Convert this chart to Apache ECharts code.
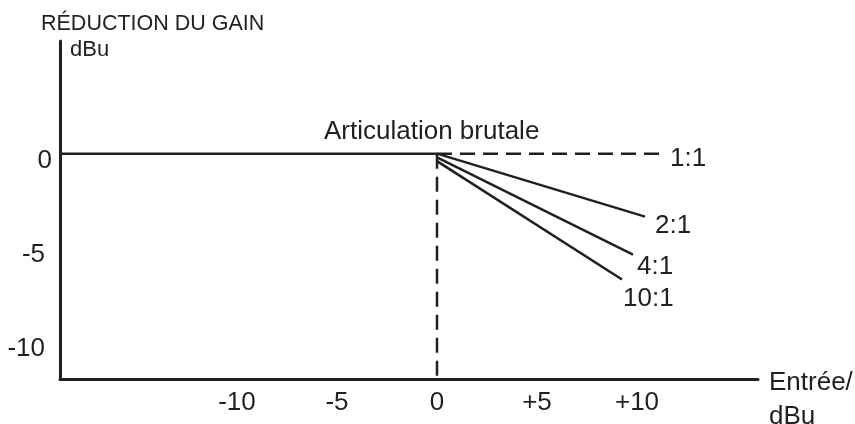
<!DOCTYPE html>
<html>
<head>
<meta charset="utf-8">
<title>Articulation brutale</title>
<script src="https://cdn.jsdelivr.net/npm/echarts@6/dist/echarts.min.js"></script>
<style>
  html, body { margin: 0; padding: 0; background: #fff; }
  #chart { width: 855px; height: 424px; }
</style>
</head>
<body>
<div id="chart"></div>
<script>
// Input level (dBu) and gain reduction (dBu) for a hard-knee compressor
const xTicks = [-10, -5, 0, 5, 10];
const yTicks = [0, -5, -10];

const belowThreshold = [[-18.85, 0], [0, 0]];
const thresholdMarker = [[0, 0], [0, -12]];

const ratioNames = ['1:1', '2:1', '4:1', '10:1'];
const ratioStart = [[0, 0], [0, 0], [0, -0.2], [0, -0.4]];
const ratioEnd = [[11.25, 0], [10.4, -3.35], [9.8, -5.38], [9.25, -6.7]];
const ratioLabelOffset = [[3, 5], [5, 9], [-1, 12], [-4, 19]];

const INK = '#231f20';
const FONT = '"Liberation Sans", Arial, sans-serif';
const SIZE = 26;

const ratioSeries = ratioNames.map((name, i) => ({
  type: 'line',
  name: name,
  symbol: 'none',
  silent: true,
  lineStyle: { color: INK, width: 2.5, type: i === 0 ? [15, 8] : 'solid' },
  endLabel: {
    show: true,
    distance: 5,
    offset: ratioLabelOffset[i],
    formatter: name,
    color: INK,
    fontSize: SIZE,
    fontFamily: FONT
  },
  data: [ratioStart[i], ratioEnd[i]]
}));

const chart = echarts.init(document.getElementById('chart'));
chart.setOption({
  animation: false,
  backgroundColor: '#fff',
  grid: { left: 60, right: 97, top: 41, bottom: 45 },
  xAxis: {
    type: 'value',
    min: -18.85,
    max: 16.05,
    splitLine: { show: false },
    axisTick: { show: false },
    axisLine: { onZero: false, lineStyle: { color: INK, width: 3 } },
    axisLabel: {
      customValues: xTicks,
      margin: 11,
      color: INK,
      fontSize: SIZE,
      fontFamily: FONT,
      formatter: v => (v > 0 ? '+' + v : String(v))
    }
  },
  yAxis: {
    type: 'value',
    min: -12,
    max: 6,
    splitLine: { show: false },
    axisTick: { show: false },
    axisLine: { show: true, onZero: false, lineStyle: { color: INK, width: 3 } },
    axisLabel: {
      customValues: yTicks,
      margin: 8,
      padding: [14, 0, 0, 0],
      color: INK,
      fontSize: SIZE,
      fontFamily: FONT,
      formatter: v => (v === 0 ? '{z|0}' : '{n|' + v + '}'),
      rich: {
        z: { fontSize: SIZE, fontFamily: FONT, color: INK },
        n: { fontSize: SIZE, fontFamily: FONT, color: INK, padding: [0, 7, 0, 0] }
      }
    }
  },
  graphic: [
    { type: 'text', left: 41, top: 13, style: { text: 'RÉDUCTION DU GAIN', font: '21.5px ' + FONT, fill: INK } },
    { type: 'text', left: 70, top: 39, style: { text: 'dBu', font: '22px ' + FONT, fill: INK } },
    { type: 'text', left: 324, top: 119, style: { text: 'Articulation brutale', font: SIZE + 'px ' + FONT, fill: INK } },
    { type: 'text', left: 769, top: 370, style: { text: 'Entrée/', font: SIZE + 'px ' + FONT, fill: INK } },
    { type: 'text', left: 769, top: 404, style: { text: 'dBu', font: SIZE + 'px ' + FONT, fill: INK } }
  ],
  series: [
    {
      type: 'line',
      name: 'seuil',
      symbol: 'none',
      silent: true,
      lineStyle: { color: INK, width: 2.5 },
      data: belowThreshold
    },
    {
      type: 'line',
      name: 'repère',
      symbol: 'none',
      silent: true,
      lineStyle: { color: INK, width: 2.5, type: [15, 8] },
      data: thresholdMarker
    }
  ].concat(ratioSeries)
});
</script>
</body>
</html>
